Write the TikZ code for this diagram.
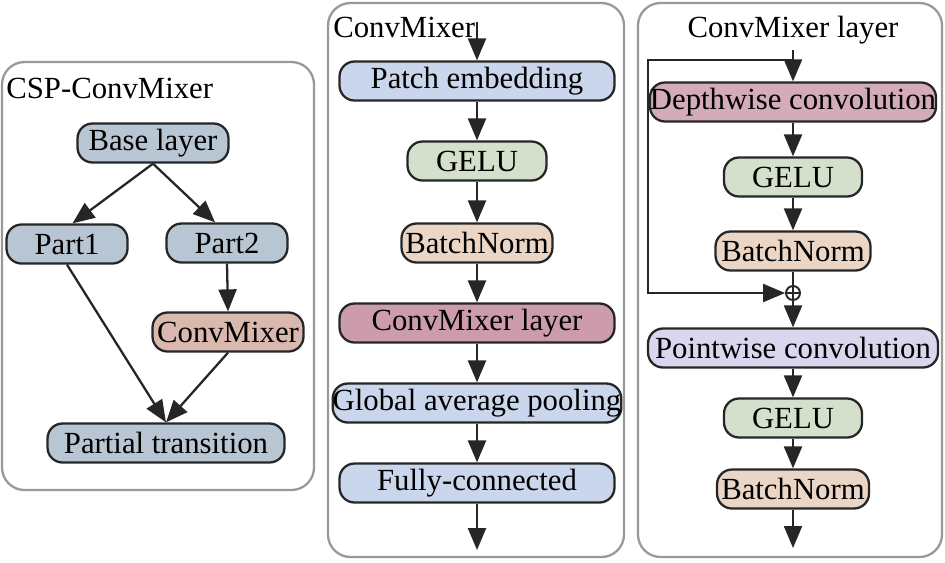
\documentclass[tikz,border=0pt]{standalone}
\usepackage{fontspec}
\setmainfont{Liberation Serif}
\usetikzlibrary{arrows.meta, positioning}
\definecolor{cspgray}{HTML}{B8C5D2}
\definecolor{cmxpink}{HTML}{D9B8AD}
\definecolor{embblue}{HTML}{C9D6EC}
\definecolor{gelugreen}{HTML}{D4E0CC}
\definecolor{bnpeach}{HTML}{EBD6C6}
\definecolor{layermauve}{HTML}{CC9CAD}
\definecolor{pwlav}{HTML}{DAD6EE}
\tikzset{
  panel/.style={draw=black!40, line width=1.3pt, rounded corners=0.45cm},
  blk/.style={draw=black!85, line width=1.3pt, rounded corners=0.3cm,
    minimum height=0.78cm, inner sep=0pt, font=\fontsize{17.5}{19}\selectfont},
  ttl/.style={anchor=base, inner sep=0pt, font=\fontsize{17.5}{19}\selectfont},
  flow/.style={-{Triangle[length=0.44cm,width=0.36cm]}, line width=1.3pt, draw=black!85},
  wire/.style={line width=1.3pt, draw=black!85},
}

\begin{document}
\begin{tikzpicture}[x=0.02cm, y=-0.02cm]
    \useasboundingbox (0,0) rectangle (945,562);

    % Panels
    \draw[panel] (2,62) rectangle (314,490);
    \draw[panel] (328,3) rectangle (624,557);
    \draw[panel] (638,3) rectangle (942,557);

    % Titles
    \node[ttl, anchor=base west] (tcsp) at (6,98) {CSP-ConvMixer};
    \node[ttl, anchor=base west] (tmix) at (333,37) {ConvMixer};
    \node[ttl] (tlayer) at (793,37) {ConvMixer layer};

    % CSP-ConvMixer
    \node[blk, fill=cspgray, minimum width=3.02cm] (base) at (153,143) {Base layer};
    \node[blk, fill=cspgray, minimum width=2.42cm] (part1) at (67,244) {Part1};
    \node[blk, fill=cspgray, minimum width=2.42cm] (part2) at (227,243) {Part2};
    \node[blk, fill=cmxpink, minimum width=3.02cm] (cmx) at (228,332) {ConvMixer};
    \node[blk, fill=cspgray, minimum width=4.74cm] (partial) at (166,443) {Partial transition};

    \draw[flow] (base.south) -- (part1.75);
    \draw[flow] (base.south) -- (part2.120);
    \draw[flow] (part2.south) -- (cmx.north);
    \draw[flow] (part1.south) -- (partial.north);
    \draw[flow] (cmx.south) -- (partial.north);

    % ConvMixer
    \coordinate (in2) at (477,22);
    \node[blk, fill=embblue, minimum width=5.5cm] (patch) at (477,81) {Patch embedding};
    \node[blk, fill=gelugreen, minimum width=2.78cm] (gelu1) at (477,161) {GELU};
    \node[blk, fill=bnpeach, minimum width=3.02cm] (bn1) at (477,243) {BatchNorm};
    \node[blk, fill=layermauve, minimum width=5.5cm] (layer) at (477,323) {ConvMixer layer};
    \node[blk, fill=embblue, minimum width=5.7cm] (gap) at (477,403) {Global average pooling};
    \node[blk, fill=embblue, minimum width=5.5cm] (fc) at (477,483) {Fully-connected};
    \coordinate (out2) at (477,550);

    \draw[flow] (in2) -- (patch);
    \draw[flow] (patch) -- (gelu1);
    \draw[flow] (gelu1) -- (bn1);
    \draw[flow] (bn1) -- (layer);
    \draw[flow] (layer) -- (gap);
    \draw[flow] (gap) -- (fc);
    \draw[flow] (fc) -- (out2);

    % ConvMixer layer
    \coordinate (in3) at (793,50);
    \coordinate (skip) at (793,60);
    \coordinate (skipL) at (648,60);
    \node[blk, fill=layermauve!85, minimum width=5.68cm] (dw) at (793,102) {Depthwise convolution};
    \node[blk, fill=gelugreen, minimum width=2.76cm] (gelu2) at (793,177) {GELU};
    \node[blk, fill=bnpeach, minimum width=3.1cm] (bn2) at (793,251) {BatchNorm};
    \node[draw=black!85, circle, line width=1.1pt, minimum size=0.28cm, inner sep=0pt] (add) at (793,293) {};
    \node[blk, fill=pwlav, minimum width=5.8cm] (pw) at (793,348) {Pointwise convolution};
    \node[blk, fill=gelugreen, minimum width=2.76cm] (gelu3) at (793,418) {GELU};
    \node[blk, fill=bnpeach, minimum width=3.04cm] (bn3) at (793,489) {BatchNorm};
    \coordinate (out3) at (793,548);

    \draw[wire, line width=1.1pt] (add.north) -- (add.south) (add.west) -- (add.east);
    \draw[flow] (in3) -- (dw);
    \draw[flow] (skip) -- (skipL) |- (add.west);
    \draw[flow] (dw) -- (gelu2);
    \draw[flow] (gelu2) -- (bn2);
    \draw[wire] (bn2) -- (add);
    \draw[flow] (add) -- (pw);
    \draw[flow] (pw) -- (gelu3);
    \draw[flow] (gelu3) -- (bn3);
    \draw[flow] (bn3) -- (out3);
\end{tikzpicture}
\end{document}
